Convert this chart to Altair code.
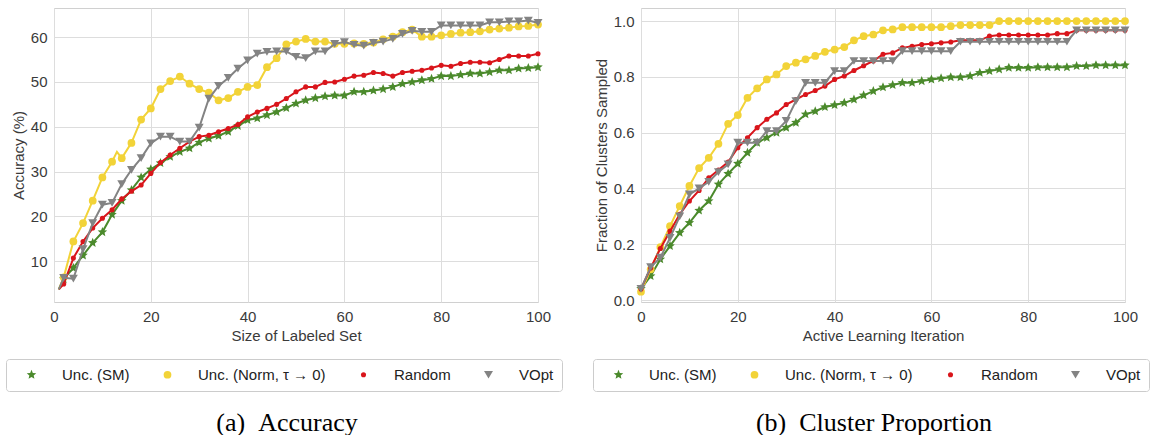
import altair as alt
import pandas as pd

# ---------------------------------------------------------------------------
# Series values
# ---------------------------------------------------------------------------
METHODS = ["Unc. (SM)", "Unc. (Norm, τ → 0)", "Random", "VOpt"]
COLORS = ["#4b8a2c", "#f2d338", "#d9151b", "#838383"]

# (a) accuracy vs size of labeled set (first point at 1, markers on even sizes)
X_ACC = [1] + list(range(2, 101, 2))
ACC_SM = [3.7, 6.0, 8.5, 11.3, 14.1, 16.5, 20.4, 23.5, 25.9, 28.7, 30.5,
          31.9, 33.3, 34.4, 35.2, 36.5, 37.4, 38.0, 38.9, 40.2, 41.5,
          41.9, 42.6, 43.3, 44.2, 45.2, 45.9, 46.4, 46.8, 47.0, 47.0,
          47.8, 47.8, 48.1, 48.4, 48.9, 49.6, 50.0, 50.4, 50.7, 51.3,
          51.3, 51.6, 51.9, 51.9, 52.2, 52.6, 52.6, 53.0, 53.1, 53.3]
ACC_NORM = [3.7, 6.4, 14.4, 18.5, 23.5, 28.7, 32.2, 33.0, 36.4, 41.6, 44.1,
            48.4, 50.2, 51.2, 49.6, 48.4, 47.6, 45.9, 46.4, 47.8, 48.9,
            49.3, 53.3, 55.3, 58.4, 59.0, 59.6, 59.0, 59.0, 58.5, 58.5,
            58.6, 58.5, 58.8, 59.5, 60.1, 61.1, 61.7, 60.1, 60.1, 60.4,
            60.7, 61.0, 61.1, 61.3, 61.7, 61.9, 62.1, 62.4, 62.5, 62.8]
ACC_NORM_EXTRA_X = [13]
ACC_NORM_EXTRA_Y = [34.4]
ACC_RANDOM = [3.7, 4.9, 10.7, 14.4, 17.4, 19.6, 21.5, 23.9, 25.6, 27.0, 29.6,
              32.0, 33.7, 35.2, 36.7, 37.8, 38.1, 38.9, 39.6, 40.5, 42.2,
              43.3, 44.1, 45.0, 46.3, 47.8, 48.9, 48.9, 49.9, 50.0, 50.6,
              51.3, 51.5, 52.1, 51.9, 51.3, 52.1, 52.4, 52.6, 53.1, 53.7,
              53.5, 54.1, 54.4, 54.4, 54.3, 55.0, 55.8, 55.8, 55.8, 56.3]
ACC_VOPT = [3.7, 6.3, 6.1, 12.7, 18.5, 22.6, 23.0, 27.2, 30.4, 33.0, 36.3,
            37.8, 37.8, 36.7, 36.7, 39.8, 46.3, 49.1, 50.9, 53.0, 54.8,
            56.3, 56.7, 56.8, 56.8, 55.6, 55.3, 56.8, 56.8, 58.5, 58.9,
            58.3, 58.1, 58.7, 59.0, 59.6, 60.7, 61.4, 61.2, 61.2, 62.6,
            62.6, 62.6, 62.6, 62.6, 63.3, 63.3, 63.5, 63.5, 63.7, 63.2]

# (b) fraction of clusters sampled vs active learning iteration
X_CLU = list(range(0, 101, 2))
CLU_SM = [0.040, 0.086, 0.146, 0.194, 0.241, 0.277, 0.321, 0.355, 0.415, 0.453,
          0.489, 0.528, 0.564, 0.582, 0.600, 0.618, 0.636, 0.666, 0.677, 0.692,
          0.699, 0.707, 0.719, 0.734, 0.749, 0.763, 0.771, 0.779, 0.779, 0.785,
          0.791, 0.795, 0.799, 0.799, 0.803, 0.815, 0.821, 0.827, 0.833, 0.833,
          0.833, 0.835, 0.835, 0.835, 0.835, 0.839, 0.839, 0.842, 0.842, 0.842,
          0.842]
CLU_NORM = [0.030, 0.110, 0.190, 0.265, 0.337, 0.409, 0.473, 0.510, 0.560, 0.632,
            0.663, 0.725, 0.759, 0.791, 0.809, 0.839, 0.851, 0.863, 0.875, 0.890,
            0.898, 0.907, 0.931, 0.946, 0.952, 0.967, 0.970, 0.978, 0.978, 0.978,
            0.978, 0.978, 0.982, 0.986, 0.986, 0.986, 0.986, 1.000, 1.000, 1.000,
            1.000, 1.000, 1.000, 1.000, 1.000, 1.000, 1.000, 1.000, 1.000, 1.000,
            1.000]
CLU_RANDOM = [0.040, 0.115, 0.185, 0.247, 0.307, 0.355, 0.393, 0.438, 0.466, 0.495,
              0.546, 0.582, 0.618, 0.648, 0.671, 0.701, 0.719, 0.737, 0.751, 0.767,
              0.791, 0.803, 0.823, 0.840, 0.857, 0.881, 0.886, 0.904, 0.910, 0.916,
              0.919, 0.922, 0.925, 0.931, 0.931, 0.931, 0.946, 0.950, 0.950, 0.950,
              0.950, 0.950, 0.950, 0.955, 0.955, 0.967, 0.967, 0.967, 0.967, 0.967,
              0.967]
CLU_VOPT = [0.040, 0.118, 0.152, 0.223, 0.300, 0.379, 0.400, 0.424, 0.459, 0.486,
            0.564, 0.564, 0.564, 0.606, 0.606, 0.642, 0.713, 0.779, 0.779, 0.779,
            0.821, 0.821, 0.857, 0.857, 0.857, 0.857, 0.857, 0.892, 0.892, 0.892,
            0.892, 0.892, 0.892, 0.926, 0.926, 0.926, 0.926, 0.926, 0.926, 0.926,
            0.926, 0.926, 0.926, 0.926, 0.926, 0.967, 0.967, 0.967, 0.967, 0.967,
            0.967]

X_TICKS = [0, 20, 40, 60, 80, 100]
ACC_TICKS = [10, 20, 30, 40, 50, 60]
CLU_TICKS = [0.0, 0.2, 0.4, 0.6, 0.8, 1.0]

# ---------------------------------------------------------------------------
# Styling
# ---------------------------------------------------------------------------
SANS = "Liberation Sans"
SERIF = "Liberation Serif"
TEXT = "#3a3a3a"
STAR = ("M0,-1L0.265,-0.364L0.951,-0.309L0.428,0.139L0.588,0.809L0,0.45"
        "L-0.588,0.809L-0.428,0.139L-0.951,-0.309L-0.265,-0.364Z")
SHAPES = [STAR, "circle", "circle", "triangle-down"]
SIZES = [100, 60, 26, 80]

PLOT_W = 484
PLOT_H = 294


def frame(xs_per_series, ys_per_series, marker_even_only):
    rows = []
    for m, xs, ys in zip(METHODS, xs_per_series, ys_per_series):
        for x, y in sorted(zip(xs, ys)):
            marker = (x % 2 == 0) if marker_even_only else True
            rows.append({"x": x, "y": y, "method": m, "marker": marker})
    return pd.DataFrame(rows)


def panel(df, x_title, y_title, y_domain, y_ticks, y_format, caption, legend_x, caption_dx):
    x_enc = alt.X("x:Q", scale=alt.Scale(domain=[0, 100], nice=False, zero=False),
                  axis=alt.Axis(values=X_TICKS, title=x_title, labelFlush=False))
    y_enc = alt.Y("y:Q", scale=alt.Scale(domain=y_domain, nice=False, zero=False),
                  axis=alt.Axis(values=y_ticks, title=y_title, format=y_format))
    legend = alt.Legend(
        title=None, orient="none", legendX=legend_x, legendY=351,
        direction="horizontal", columns=4,
        padding=8, strokeColor="#cccccc", fillColor="white", cornerRadius=3,
        labelFont=SANS, labelFontSize=15, labelColor="#222222",
        labelOffset=23, symbolOffset=10, columnPadding=20,
        symbolStrokeWidth=0,
    )
    layers = []
    for i, m in enumerate(METHODS):
        sub = alt.Chart(df).transform_filter(alt.datum.method == m)
        layers.append(
            sub.mark_line(color=COLORS[i], strokeWidth=2).encode(x=x_enc, y=y_enc)
        )
        layers.append(
            sub.transform_filter("datum.marker")
            .mark_point(filled=True, opacity=1, strokeWidth=0)
            .encode(
                x=x_enc, y=y_enc,
                color=alt.Color("method:N", scale=alt.Scale(domain=METHODS, range=COLORS),
                                legend=legend),
                shape=alt.Shape("method:N", scale=alt.Scale(domain=METHODS, range=SHAPES)),
                size=alt.Size("method:N", scale=alt.Scale(type="ordinal", domain=METHODS,
                                                          range=SIZES)),
            )
        )
    return alt.layer(*layers).properties(
        width=PLOT_W, height=PLOT_H,
        title=alt.TitleParams(
            caption, orient="bottom", anchor="middle", font=SERIF, fontSize=26,
            fontWeight="normal", color="#000000", dx=caption_dx, offset=18,
        ),
    )


acc_df = frame(
    [X_ACC, X_ACC + ACC_NORM_EXTRA_X, X_ACC, X_ACC],
    [ACC_SM, ACC_NORM + ACC_NORM_EXTRA_Y, ACC_RANDOM, ACC_VOPT],
    marker_even_only=True,
)
clu_df = frame(
    [X_CLU] * 4,
    [CLU_SM, CLU_NORM, CLU_RANDOM, CLU_VOPT],
    marker_even_only=False,
)

left = panel(acc_df, "Size of Labeled Set", "Accuracy (%)", [0.9, 66.5], ACC_TICKS, "d",
             "(a)\u00a0\u00a0Accuracy", -48, -9)
right = panel(clu_df, "Active Learning Iteration", "Fraction of Clusters Sampled",
              [-0.007, 1.047], CLU_TICKS, ".1f",
              "(b)\u00a0\u00a0Cluster Proportion", -48, -9)

chart = (
    alt.hconcat(left, right, spacing=29)
    .resolve_scale(color="independent", shape="independent", size="independent")
    .properties(padding={"left": 5, "top": 7, "right": 0, "bottom": 0}, background="white")
    .configure_view(stroke="#d0d0d0", strokeWidth=1)
    .configure_axis(
        grid=True, gridColor="#dddddd", gridWidth=1, ticks=False, domain=False,
        labelFont=SANS, labelFontSize=15, labelColor=TEXT, labelPadding=7,
        titleFont=SANS, titleFontSize=15, titleColor=TEXT, titleFontWeight="normal",
        titlePadding=4,
    )
)

chart.save("out.html", embed_options={"renderer": "svg", "actions": False})
